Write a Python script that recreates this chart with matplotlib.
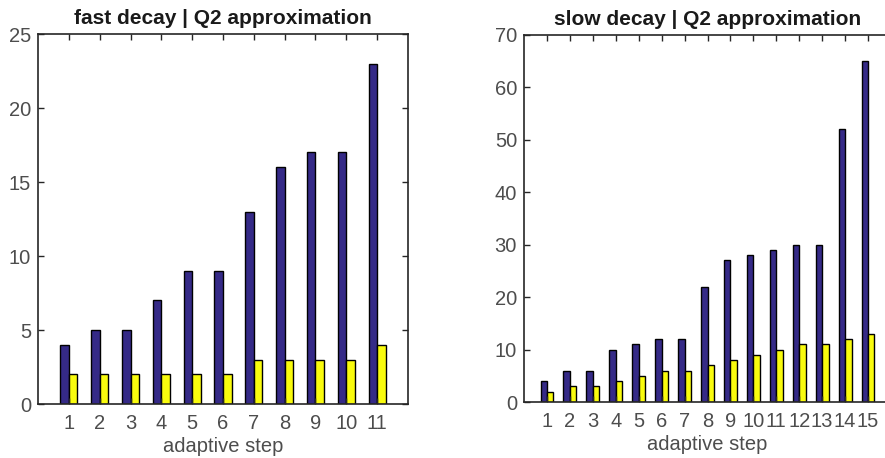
import numpy as np
import matplotlib
matplotlib.use("Agg")
import matplotlib.pyplot as plt

plt.rcParams['font.family'] = ['Liberation Sans', 'DejaVu Sans']

# fast decay
fast_steps = list(range(1, 12))
fast_blue = [4, 5, 5, 7, 9, 9, 13, 16, 17, 17, 23]
fast_yellow = [2, 2, 2, 2, 2, 2, 3, 3, 3, 3, 4]

# slow decay
slow_steps = list(range(1, 16))
slow_blue = [4, 6, 6, 10, 11, 12, 12, 22, 27, 28, 29, 30, 30, 52, 65]
slow_yellow = [2, 3, 3, 4, 5, 6, 6, 7, 8, 9, 10, 11, 11, 12, 13]

blue = '#352a87'
yellow = '#f9fb0e'
axcol = '#262626'
txtcol = '#4d4d4d'

W, H = 885, 458
fig = plt.figure(figsize=(W / 100, H / 100), dpi=100)


def panel(rect, steps, b, y, ymax, yticks, title):
    ax = fig.add_axes(rect)
    x = np.array(steps)
    w = 0.28
    ax.bar(x - w / 2, b, width=w, color=blue, edgecolor='black', linewidth=1.0)
    ax.bar(x + w / 2, y, width=w, color=yellow, edgecolor='black', linewidth=1.0)
    ax.set_xlim(0, len(steps) + 1)
    ax.set_ylim(0, ymax)
    ax.set_xticks(steps)
    ax.set_yticks(yticks)
    ax.tick_params(direction='in', top=True, right=True, length=4, width=1,
                   color=axcol, labelcolor=txtcol, labelsize=14.5)
    ax.tick_params(axis='x', pad=7)
    ax.tick_params(axis='y', pad=5)
    for s in ax.spines.values():
        s.set_color(axcol)
        s.set_linewidth(1.2)
    ax.set_xlabel('adaptive step', fontsize=14.5, color=txtcol, labelpad=3)
    ax.set_title(title, fontsize=15, fontweight='bold', color='#1a1a1a', pad=7)
    return ax


panel([38 / W, 1 - 404 / H, 370 / W, 370 / H], fast_steps, fast_blue, fast_yellow,
      25, range(0, 26, 5), 'fast decay | Q2 approximation')
panel([524 / W, 1 - 402 / H, 367 / W, 367 / H], slow_steps, slow_blue, slow_yellow,
      70, range(0, 71, 10), 'slow decay | Q2 approximation')

fig.savefig('out.png', dpi=100)
